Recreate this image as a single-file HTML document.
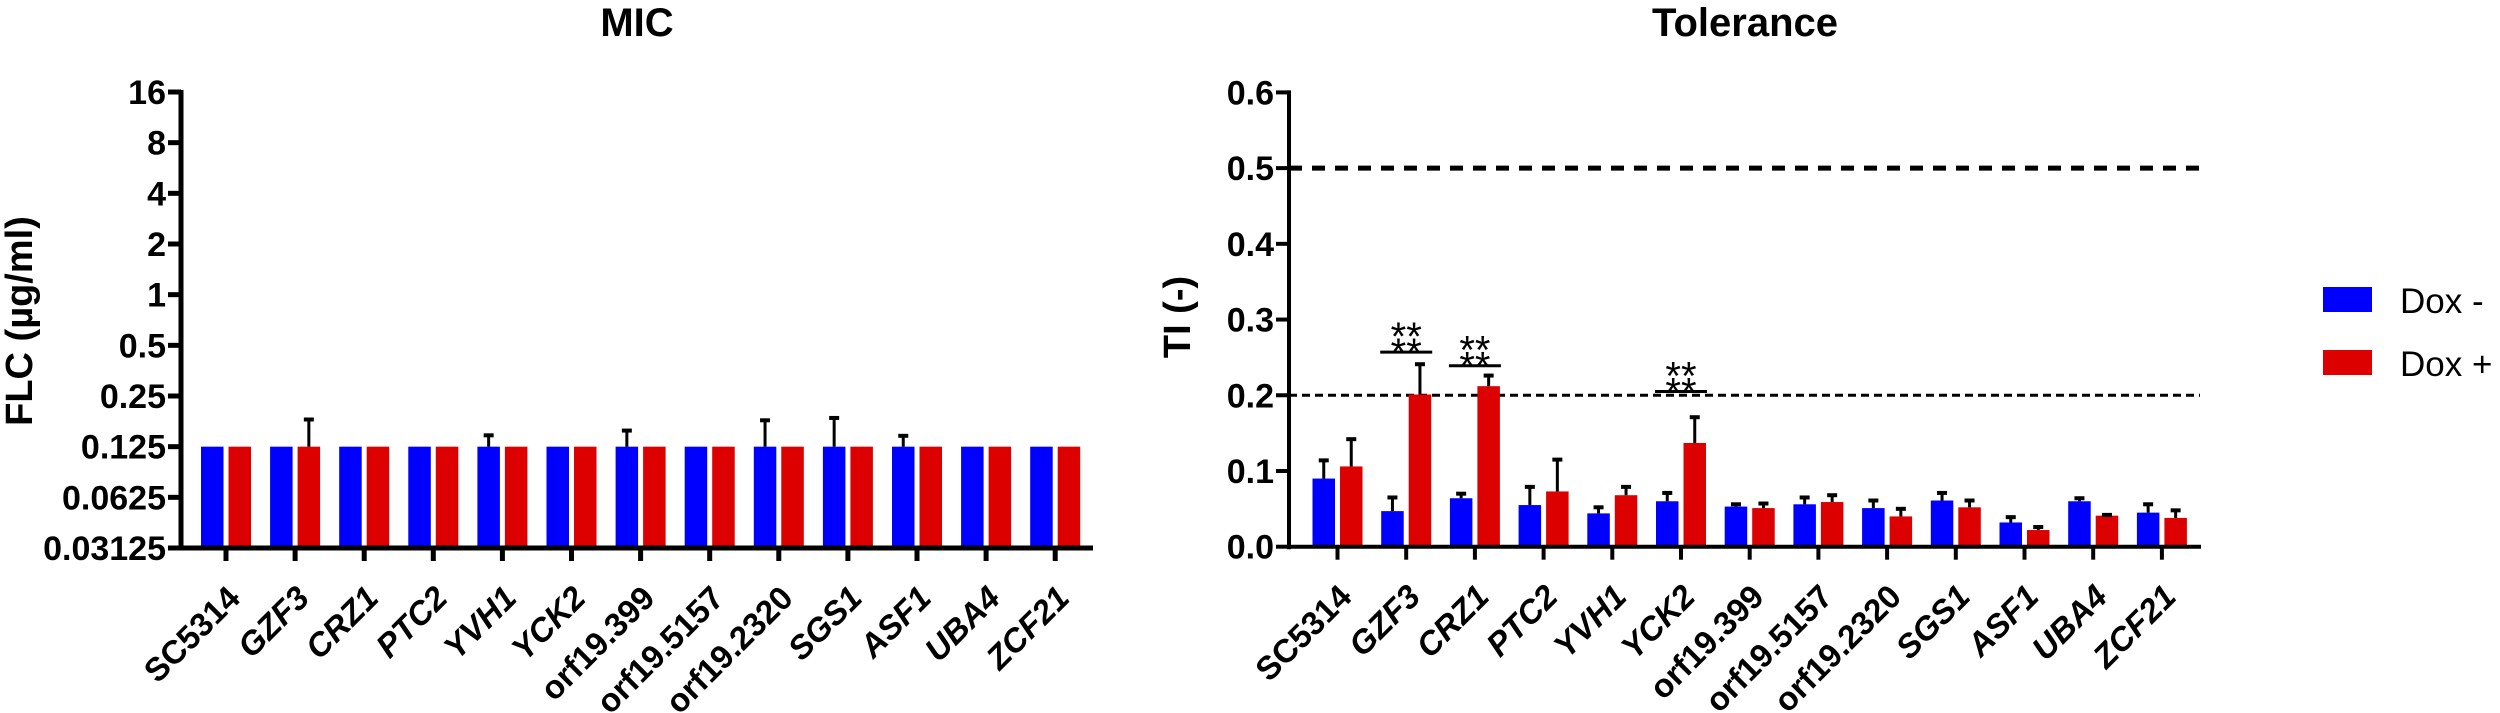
<!DOCTYPE html>
<html><head><meta charset="utf-8"><style>
html,body{margin:0;padding:0;background:#fff;}
svg{display:block;font-family:"Liberation Sans",Arial,sans-serif;}
</style></head><body>
<svg id="fig" width="2500" height="713" viewBox="0 0 2500 713" xmlns="http://www.w3.org/2000/svg">
<text x="637" y="36" font-size="40" font-weight="bold" text-anchor="middle">MIC</text>
<text x="1745" y="36" font-size="40" font-weight="bold" text-anchor="middle">Tolerance</text>
<text transform="translate(32,321) rotate(-90)" font-size="38" font-weight="bold" text-anchor="middle">FLC (µg/ml)</text>
<text transform="translate(1190,317) rotate(-90)" font-size="38" font-weight="bold" text-anchor="middle">TI (-)</text>
<g>
<rect x="2323" y="287" width="49" height="25" fill="#0000ff"/>
<text x="2400" y="313" font-size="35">Dox -</text>
<rect x="2323" y="350" width="49" height="25" fill="#dd0000"/>
<text x="2400" y="376" font-size="35">Dox +</text>
</g>
<g id="left"></g>
<g id="right"></g>
</svg>
<script>
const categories = ["SC5314","GZF3","CRZ1","PTC2","YVH1","YCK2","orf19.399","orf19.5157","orf19.2320","SGS1","ASF1","UBA4","ZCF21"];
const italicCats = [false,true,true,true,true,true,false,false,false,true,true,true,true];
const micMinus = [0.125,0.125,0.125,0.125,0.125,0.125,0.125,0.125,0.125,0.125,0.125,0.125,0.125];
const micPlus = [0.125,0.125,0.125,0.125,0.125,0.125,0.125,0.125,0.125,0.125,0.125,0.125,0.125];
const micMinusErr = [0,0,0,0,0.149,0,0.159,0,0.183,0.189,0.148,0,0];
const micPlusErr = [0,0.185,0,0,0,0,0,0,0,0,0,0,0];
const micTicks = [0.03125,0.0625,0.125,0.25,0.5,1,2,4,8,16];
const micTickLabels = ["0.03125","0.0625","0.125","0.25","0.5","1","2","4","8","16"];
const tiMinus = [0.090,0.047,0.064,0.055,0.044,0.060,0.053,0.056,0.051,0.061,0.032,0.060,0.045];
const tiPlus = [0.106,0.201,0.212,0.073,0.068,0.137,0.051,0.059,0.040,0.052,0.022,0.041,0.038];
const tiMinusErr = [0.116,0.067,0.072,0.081,0.054,0.073,0.058,0.067,0.063,0.073,0.041,0.066,0.058];
const tiPlusErr = [0.144,0.243,0.228,0.117,0.081,0.173,0.059,0.070,0.052,0.063,0.028,0.044,0.050];
const tiTicks = [0,0.1,0.2,0.3,0.4,0.5,0.6];
const tiTickLabels = ["0.0","0.1","0.2","0.3","0.4","0.5","0.6"];
const sigIndex = [1,2,5];
const sigLevel = [0.257,0.239,0.205];
const refLines = [0.5,0.2];

const NS="http://www.w3.org/2000/svg";
function mk(parent,tag,attrs){const e=document.createElementNS(NS,tag);for(const k in attrs)e.setAttribute(k,attrs[k]);parent.appendChild(e);return e;}

function drawChart(g, axX, axEnd, top, bottom, firstTick, step, yScale, ticks, tickLabels, minus, plus, minusErr, plusErr, lw){
  const xs = i => firstTick + i*step;
  categories.forEach((c,i)=>{
    const cx=xs(i);
    let r=mk(g,'rect',{x:cx-25,y:yScale(minus[i]),width:22.5,height:bottom-yScale(minus[i]),fill:'#0000ff'});
    
    
    r=mk(g,'rect',{x:cx+2.5,y:yScale(plus[i]),width:22.5,height:bottom-yScale(plus[i]),fill:'#dd0000'});
    
    
    [[minus[i],minusErr[i],cx-13.75],[plus[i],plusErr[i],cx+13.75]].forEach(([v,e,ex])=>{
      if(e>v){
        const eg=mk(g,'g',{});
        
        
        mk(eg,'line',{x1:ex,x2:ex,y1:yScale(v),y2:yScale(e),stroke:'#000','stroke-width':3});
        mk(eg,'line',{x1:ex-5,x2:ex+5,y1:yScale(e)+1.5,y2:yScale(e)+1.5,stroke:'#000','stroke-width':4});
      }
    });
    const tk=mk(g,'line',{x1:cx,x2:cx,y1:bottom,y2:bottom+13,stroke:'#000','stroke-width':lw});
    
    
    const t=mk(g,'text',{transform:`translate(${cx+16},${bottom+52}) rotate(-45)`,'text-anchor':'end','font-size':33,'font-weight':'bold'});
    if(italicCats[i]) t.setAttribute('font-style','italic');
    t.textContent=c;
    
    
  });
  ticks.forEach((v,i)=>{
    const y=yScale(v);
    const l=mk(g,'line',{x1:axX-13,x2:axX,y1:y,y2:y,stroke:'#000','stroke-width':lw});
    
    
    const t=mk(g,'text',{x:axX-15,y:y+12,'text-anchor':'end','font-size':34,'font-weight':'bold'});
    t.textContent=tickLabels[i];
    
    
  });
  const ya=mk(g,'line',{x1:axX,x2:axX,y1:top-2,y2:bottom+2.5,stroke:'#000','stroke-width':lw});
  
  
  const xa=mk(g,'line',{x1:axX-2,x2:axEnd,y1:bottom,y2:bottom,stroke:'#000','stroke-width':lw});
  
  
  return xs;
}

const lTop=92,lBot=548;
const lY=v=>lBot-(Math.log2(v)-Math.log2(0.03125))*(lBot-lTop)/9;
drawChart(document.getElementById('left'),181,1093,lTop,lBot,226,69.1,lY,micTicks,micTickLabels,micMinus,micPlus,micMinusErr,micPlusErr,5);

const rTop=92.4,rBot=546.7;
const rY=v=>rBot-v*(rBot-rTop)/0.6;
const rg=document.getElementById('right');
refLines.forEach((v,i)=>{
  const l=mk(rg,'line',{x1:1289,x2:2200,y1:rY(v),y2:rY(v),stroke:'#000','stroke-width':i===0?5:3,'stroke-dasharray':i===0?'13 10':'8 5'});
  
  
});
const rx=drawChart(rg,1289,2201,rTop,rBot,1337.5,68.7,rY,tiTicks,tiTickLabels,tiMinus,tiPlus,tiMinusErr,tiPlusErr,4);
sigIndex.forEach((ci,k)=>{
  const cx=rx(ci), y=rY(sigLevel[k]);
  const l=mk(rg,'line',{x1:cx-26,x2:cx+26,y1:y,y2:y,stroke:'#000','stroke-width':3});
  
  
  [y-2,y+14].forEach(b=>{
    const t=mk(rg,'text',{x:cx,y:b,'text-anchor':'middle','font-size':40});
    t.textContent='**';
    
    
  });
});
</script>
</body></html>
